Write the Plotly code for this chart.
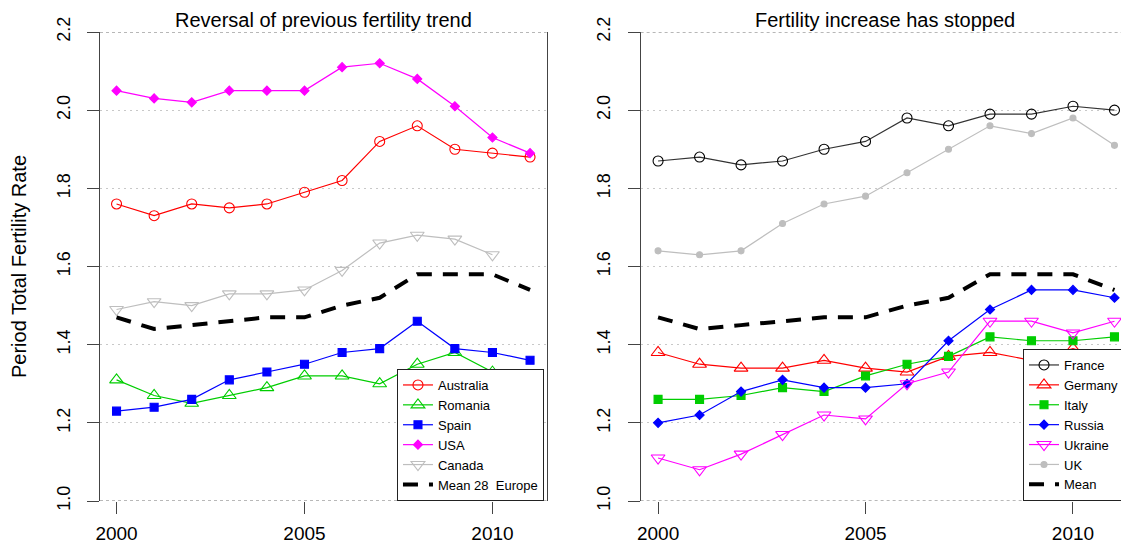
from plotly import graph_objects as go

# values
years = list(range(2000, 2012))
year_ticks = [2000, 2005, 2010]
rate_ticks = [1.0, 1.2, 1.4, 1.6, 1.8, 2.0, 2.2]

australia = [1.76, 1.73, 1.76, 1.75, 1.76, 1.79, 1.82, 1.92, 1.96, 1.90, 1.89, 1.88]
romania = [1.31, 1.27, 1.25, 1.27, 1.29, 1.32, 1.32, 1.30, 1.35, 1.38, 1.33, 1.27]
spain = [1.23, 1.24, 1.26, 1.31, 1.33, 1.35, 1.38, 1.39, 1.46, 1.39, 1.38, 1.36]
usa = [2.05, 2.03, 2.02, 2.05, 2.05, 2.05, 2.11, 2.12, 2.08, 2.01, 1.93, 1.89]
canada = [1.49, 1.51, 1.50, 1.53, 1.53, 1.54, 1.59, 1.66, 1.68, 1.67, 1.63, None]
mean_europe = [1.47, 1.44, 1.45, 1.46, 1.47, 1.47, 1.50, 1.52, 1.58, 1.58, 1.58, 1.54]

france = [1.87, 1.88, 1.86, 1.87, 1.90, 1.92, 1.98, 1.96, 1.99, 1.99, 2.01, 2.00]
germany = [1.38, 1.35, 1.34, 1.34, 1.36, 1.34, 1.33, 1.37, 1.38, 1.36, 1.39, 1.36]
italy = [1.26, 1.26, 1.27, 1.29, 1.28, 1.32, 1.35, 1.37, 1.42, 1.41, 1.41, 1.42]
russia = [1.20, 1.22, 1.28, 1.31, 1.29, 1.29, 1.30, 1.41, 1.49, 1.54, 1.54, 1.52]
ukraine = [1.11, 1.08, 1.12, 1.17, 1.22, 1.21, 1.30, 1.33, 1.46, 1.46, 1.43, 1.46]
uk = [1.64, 1.63, 1.64, 1.71, 1.76, 1.78, 1.84, 1.90, 1.96, 1.94, 1.98, 1.91]

FONT = "Liberation Sans, Arial, sans-serif"
RED = "#FF0000"
GREEN = "#00CD00"
BLUE = "#0000FF"
MAGENTA = "#FF00FF"
GREY = "#BEBEBE"
AXIS_COLOR = "#444444"


def series(name, values, color, symbol, size, axis, legend, line_color=None):
    return go.Scatter(
        x=years,
        y=values,
        name=name,
        mode="lines+markers",
        line=dict(color=line_color or color, width=1.2),
        marker=dict(symbol=symbol, size=size, color=color, line=dict(color=color, width=1.1)),
        xaxis="x" if axis == 1 else "x2",
        yaxis="y" if axis == 1 else "y2",
        legend=legend,
        connectgaps=False,
    )


def mean_line(name, axis, legend):
    return go.Scatter(
        x=years,
        y=mean_europe,
        name=name,
        mode="lines",
        line=dict(color="black", width=4, dash="15px,11px"),
        xaxis="x" if axis == 1 else "x2",
        yaxis="y" if axis == 1 else "y2",
        legend=legend,
    )


traces = [
    series("Australia", australia, RED, "circle-open", 10, 1, "legend"),
    series("Romania", romania, GREEN, "triangle-up-open", 12, 1, "legend"),
    series("Spain", spain, BLUE, "square", 8, 1, "legend"),
    series("USA", usa, MAGENTA, "diamond", 7, 1, "legend"),
    series("Canada", canada, GREY, "triangle-down-open", 12, 1, "legend"),
    mean_line("Mean 28\u00a0 Europe", 1, "legend"),
    series("France", france, "black", "circle-open", 10, 2, "legend2", line_color="#333333"),
    series("Germany", germany, RED, "triangle-up-open", 12, 2, "legend2"),
    series("Italy", italy, GREEN, "square", 8, 2, "legend2"),
    series("Russia", russia, BLUE, "diamond", 7, 2, "legend2"),
    series("Ukraine", ukraine, MAGENTA, "triangle-down-open", 12, 2, "legend2"),
    series("UK", uk, GREY, "circle", 6, 2, "legend2"),
    mean_line("Mean", 2, "legend2"),
]

fig = go.Figure(data=traces)

xaxis_common = dict(
    tickvals=year_ticks,
    ticks="outside",
    ticklen=12,
    tickcolor=AXIS_COLOR,
    tickfont=dict(size=19, color="black"),
    ticklabelstandoff=3,
    showgrid=False,
    zeroline=False,
    showline=False,
    automargin=False,
)
yaxis_common = dict(
    range=[1.0, 2.2],
    tickvals=rate_ticks,
    tickformat=".1f",
    tickangle=-90,
    ticks="outside",
    ticklen=12,
    tickcolor=AXIS_COLOR,
    tickfont=dict(size=18, color="black"),
    ticklabelstandoff=10,
    showgrid=True,
    gridcolor="#C8C8C8",
    griddash="2px,4px",
    gridwidth=1,
    zeroline=False,
    showline=True,
    linecolor=AXIS_COLOR,
    linewidth=1,
    automargin=False,
)

legend_common = dict(
    y=0, yanchor="bottom", xanchor="left",
    bgcolor="white", bordercolor="#222222", borderwidth=1,
    font=dict(size=13), tracegroupgap=0, itemwidth=30,
)

# the page body adds an 8px offset, so the figure is sized to fill the window from there
fig.update_layout(
    width=1121,
    height=542,
    margin=dict(l=92, r=0, t=24, b=49),
    plot_bgcolor="white",
    paper_bgcolor="white",
    font=dict(family=FONT, color="black"),
    xaxis=dict(domain=[0, 0.434], range=[1999.56, 2011.44], **xaxis_common),
    xaxis2=dict(domain=[0.5254, 1.0], range=[1999.58, 2011.35], anchor="y2", **xaxis_common),
    yaxis=dict(
        mirror=True,
        title=dict(text="Period Total Fertility Rate", font=dict(size=20), standoff=22),
        **yaxis_common,
    ),
    yaxis2=dict(anchor="x2", mirror=False, **yaxis_common),
    legend=dict(x=0.2886, **legend_common),
    legend2=dict(x=0.897, **legend_common),
    showlegend=True,
)

# dashed frame at top and bottom of each panel
for xref, yref in (("x domain", "y"), ("x2 domain", "y2")):
    for level in (rate_ticks[0], rate_ticks[-1]):
        fig.add_shape(
            type="line", xref=xref, yref=yref, x0=0, x1=1, y0=level, y1=level,
            line=dict(color="#707070", width=1, dash="dot"),
        )

titles = [("x domain", "Reversal of previous fertility trend"), ("x2 domain", "Fertility increase has stopped")]
for xref, text in titles:
    fig.add_annotation(
        text=text, xref=xref, x=0.5, yref="paper", y=1, yanchor="middle", yshift=12,
        showarrow=False, font=dict(size=20, color="black"),
    )

fig.write_html("out.html")
